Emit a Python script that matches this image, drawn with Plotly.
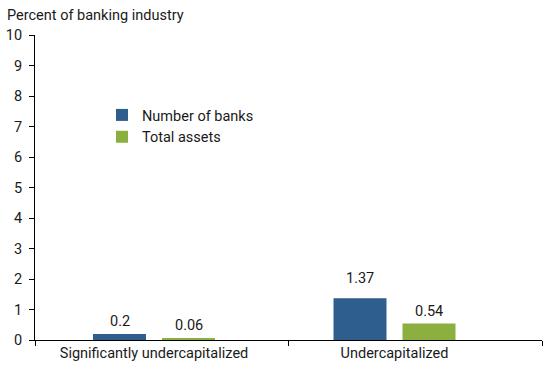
import plotly.graph_objects as go

categories = ["Significantly undercapitalized", "Undercapitalized"]
number_of_banks = [0.2, 1.37]
total_assets = [0.06, 0.54]
series_names = ["Number of banks", "Total assets"]
y_ticks = list(range(0, 11))

BLUE = "#2E5E8C"
GREEN = "#8CB03F"
TXT = "#1a1a1a"
FONT = "Roboto"
FS = 14.5

xpos = list(range(len(categories)))

fig = go.Figure()
fig.add_trace(go.Bar(x=xpos, y=number_of_banks, name=series_names[0],
                     marker=dict(color=BLUE, line=dict(width=0))))
fig.add_trace(go.Bar(x=xpos, y=total_assets, name=series_names[1],
                     marker=dict(color=GREEN, line=dict(width=0))))

# data labels
label_shift = {(1, 0): 7}
slot = 0.2869
for si, vals in enumerate([number_of_banks, total_assets]):
    off = -slot / 2 if si == 0 else slot / 2
    for ci, v in enumerate(vals):
        fig.add_annotation(x=xpos[ci] + off, y=v, xref="x", yref="y",
                           text=str(v), showarrow=False, yanchor="bottom",
                           yshift=2 + label_shift.get((ci, si), 0),
                           font=dict(family=FONT, size=FS, color=TXT))

# page body margin removed below, so figure coordinates = screen coordinates
W, H = 550, 365
L, R, T, B = 35, 8, 35, 25
pw = W - L - R
ph = H - T - B

fig.add_annotation(text="Percent of banking industry", xref="paper", yref="paper",
                   x=(5 - L) / pw, y=1 + (T - 16) / ph, xanchor="left", yanchor="middle",
                   showarrow=False, font=dict(family=FONT, size=FS, color=TXT))

x_left, x_right = -0.4948, 1.6133
fig.update_layout(
    template="none",
    width=W, height=H,
    margin=dict(l=L, r=R, t=T, b=B, pad=0, autoexpand=False),
    plot_bgcolor="white", paper_bgcolor="white",
    barmode="group", bargap=0.4262, bargroupgap=0.232,
    font=dict(family=FONT, size=FS, color=TXT),
    showlegend=True,
    legend=dict(x=67 / pw, y=1 - 64 / ph, xanchor="left", yanchor="top",
                bgcolor="rgba(0,0,0,0)", borderwidth=0, font=dict(family=FONT, size=FS, color=TXT),
                itemwidth=30),
    xaxis=dict(range=[x_left, x_right], tickmode="array", tickvals=xpos, ticktext=categories,
               ticks="", showgrid=False, zeroline=False, showline=True, linecolor="black",
               linewidth=1, automargin=False, tickfont=dict(family=FONT, size=FS, color=TXT),
               minor=dict(tickmode="array", tickvals=[x_left, 0.56, x_right], ticks="outside",
                          ticklen=5, tickcolor="black", tickwidth=1, showgrid=False)),
    yaxis=dict(range=[0, 10], tickmode="array", tickvals=y_ticks, ticks="outside", ticklen=5,
               tickcolor="black", showgrid=False, zeroline=False, showline=True,
               linecolor="black", linewidth=1, automargin=False, ticklabelstandoff=4,
               tickfont=dict(family=FONT, size=FS, color=TXT)),
)

fig.write_html("out.html", config={"displayModeBar": False},
               post_script="document.body.style.margin='0';")
